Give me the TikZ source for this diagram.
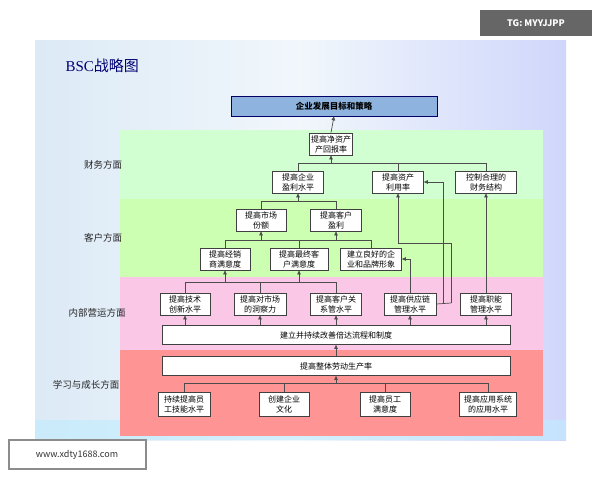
\documentclass[tikz,border=0pt]{standalone}
\usepackage{fontspec}
\setmainfont{Noto Sans CJK SC}
\newfontfamily\serifcjk{Liberation Serif}
\usetikzlibrary{arrows.meta}
\definecolor{slide}{HTML}{DCEAF6}
\definecolor{goalc}{HTML}{8DB3DE}
\begin{document}
\begin{tikzpicture}[x=1pt,y=-1pt,
 bx/.style={draw=black!75,line width=0.7pt,fill=white,font=\fontsize{8}{10}\selectfont,align=center,inner sep=0pt},
 ln/.style={draw=black!70,line width=0.7pt},
 ar/.style={ln,-{Triangle[length=4pt,width=3.5pt]}},
 lab/.style={font=\fontsize{9.5}{11}\selectfont,text=black!85}]
\useasboundingbox (0,0) rectangle (600,480);
\fill[white] (0,0) rectangle (600,480);
\shade[left color=slide,right color=slide!80!blue!60,middle color=white!60!slide] (35,40) rectangle (566,440);
\fill[blue!30!cyan!25,opacity=0.6] (35,420) rectangle (566,440);
\node[anchor=west,font=\fontsize{15}{17}\selectfont,text=blue!45!black] (title) at (62,66) {{\serifcjk BSC}战略图};
% bands
\fill[green!18] (120,130) rectangle (543,199);
\fill[lime!45!green!30] (120,199) rectangle (543,277);
\fill[magenta!22] (120,277) rectangle (543,350);
\fill[red!42] (120,350) rectangle (543,436);
\node[lab] (l1) at (103,165) {财务方面};
\node[lab] (l2) at (103,238) {客户方面};
\node[lab] (l3) at (97,313) {内部营运方面};
\node[lab] (l4) at (86,385) {学习与成长方面};
% watermarks
\fill[black!60] (480,10) rectangle (592,36);
\node[text=white,font=\fontsize{9}{10}\selectfont\bfseries] (tg) at (536,23) {TG: MYYJJPP};
\fill[black!45] (8,439) rectangle (147,470);
\fill[white] (10,441) rectangle (145,468);
\node[font=\fontsize{9}{10}\selectfont,text=black!80] (www) at (77,455) {www.xdty1688.com};
% nodes
\node[bx,fill=goalc,draw=blue!40!black,minimum width=206pt,minimum height=20pt,font=\fontsize{8.5}{10}\selectfont\bfseries] (goal) at (334,106) {企业发展目标和策略};
\newcommand{\bb}[6]{\node[bx,minimum width=#3pt,minimum height=#4pt] (#1) at (#2) {#5};}
\bb{roe}{331,144}{43}{22}{提高净资产\\产回报率}{}
\bb{prof}{298,182}{51}{22}{提高企业\\盈利水平}{}
\bb{asset}{398,182}{51}{22}{提高资产\\利用率}{}
\bb{fin}{486,182}{61}{22}{控制合理的\\财务结构}{}
\bb{mkt}{261,220}{50}{22}{提高市场\\份额}{}
\bb{cprof}{336,220}{51}{22}{提高客户\\盈利}{}
\bb{deal}{225,259}{50}{22}{提高经销\\商满意度}{}
\bb{end}{299,259}{58}{22}{提高最终客\\户满意度}{}
\bb{brand}{371,259}{61}{22}{建立良好的企\\业和品牌形象}{}
\bb{tech}{185,304}{50}{22}{提高技术\\创新水平}{}
\bb{ins}{260,304}{52}{22}{提高对市场\\的洞察力}{}
\bb{crm}{336,304}{51}{22}{提高客户关\\系管水平}{}
\bb{sup}{410,304}{52}{22}{提高供应链\\管理水平}{}
\bb{func}{486,304}{51}{22}{提高职能\\管理水平}{}
\bb{proc}{336,335}{348}{19}{建立并持续改善倍达流程和制度}{}
\bb{prod}{336,366}{348}{19}{提高整体劳动生产率}{}
\bb{emp}{184,404}{52}{24}{持续提高员\\工技能水平}{}
\bb{cult}{284,404}{50}{24}{创建企业\\文化}{}
\bb{sat}{385,404}{50}{24}{提高员工\\满意度}{}
\bb{app}{488,404}{57}{24}{提高应用系统\\的应用水平}{}
% connectors
\draw[ar] (roe.north) -- (goal.south);
\draw[ln] (prof.north) |- (fin.north |- 0,163) -- (fin.north);
\draw[ln] (asset.north) -- (asset.north |- 0,163);
\draw[ar] (roe.south |- 0,163) -- (roe.south);
\draw[ln] (mkt.north) |- (cprof.north |- 0,201) -- (cprof.north);
\draw[ar] (prof.south |- 0,201) -- (prof.south);
\draw[ln] (deal.north) |- (brand.north |- 0,240) -- (brand.north);
\draw[ln] (end.north) -- (end.north |- 0,240);
\draw[ar] (mkt.south |- 0,240) -- (mkt.south);
\draw[ar] (cprof.south |- 0,240) -- (cprof.south);
\draw[ln] (tech.north) |- (crm.north |- 0,282) -- (crm.north);
\draw[ln] (ins.north) -- (ins.north |- 0,282);
\draw[ar] (deal.south |- 0,282) -- (deal.south);
\draw[ar] (end.south |- 0,282) -- (end.south);
\draw[ar] (sup.north) |- (brand.east);
\coordinate (sr) at (451,303);
\draw[ln] (sup.east) -- (sr);
\draw[ar] (443,303) |- (asset.east);
\draw[ar] (sr) |- (398,243) -- (asset.south);
\draw[ar] (func.north) -- (fin.south);
\foreach \n in {tech,ins,crm,sup,func}{\draw[ar] (proc.north -| \n.south) -- (\n.south);}
\draw[ar] (prod.north) -- (proc.south);
\draw[ln] (emp.north) |- (app.north |- 0,383) -- (app.north);
\draw[ln] (cult.north) -- (cult.north |- 0,383);
\draw[ln] (sat.north) -- (sat.north |- 0,383);
\draw[ar] (prod.south |- 0,383) -- (prod.south);
\end{tikzpicture}
\end{document}
